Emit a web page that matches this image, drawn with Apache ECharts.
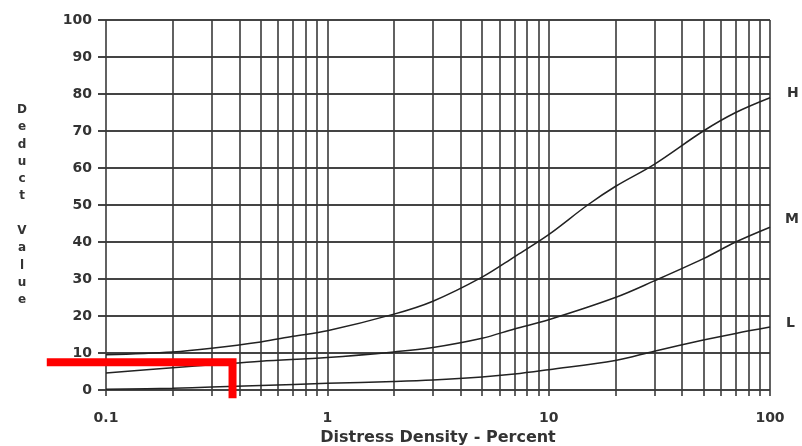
<!DOCTYPE html>
<html>
<head>
<meta charset="utf-8">
<script src="https://cdn.jsdelivr.net/npm/echarts@6/dist/echarts.min.js"></script>
<style>
html,body{margin:0;padding:0;background:#fff;}
#c{width:802px;height:446px;}
</style>
</head>
<body>
<div id="c"></div>
<script>
// Density (%) values and deduct values
const xH = [0.1, 0.2, 0.3, 0.5, 0.7, 1, 2, 3, 5, 7, 10, 15, 20, 30, 50, 70, 100];
const yH = [9.5, 10.3, 11.3, 13, 14.5, 16, 20.5, 24, 30.5, 36, 42, 50, 55, 61, 70, 75, 79];
const xM = [0.1, 0.2, 0.3, 0.5, 1, 2, 3, 5, 7, 10, 20, 30, 50, 70, 100];
const yM = [4.6, 6, 6.8, 7.8, 8.8, 10.3, 11.5, 14, 16.5, 19, 25, 29.5, 35.5, 40, 44];
const xL = [0.1, 0.2, 0.3, 0.5, 1, 2, 3, 5, 7, 10, 20, 30, 50, 70, 100];
const yL = [0.2, 0.5, 0.8, 1.2, 1.8, 2.3, 2.7, 3.5, 4.3, 5.5, 8, 10.5, 13.5, 15.3, 17];
const xGridValues = [0.1,0.2,0.3,0.4,0.5,0.6,0.7,0.8,0.9,1,2,3,4,5,6,7,8,9,10,20,30,40,50,60,70,80,90,100];
const redX = [0.054, 0.373, 0.373];
const redY = [7.5, 7.5, -2.2];
const yTicks = [0, 10, 20, 30, 40, 50, 60, 70, 80, 90, 100];
const xMin = 0.1, xMax = 100;
const gridTickBottom = -1.6;

const pair = (xs, ys) => xs.map((x, i) => [x, ys[i]]);
const chart = echarts.init(document.getElementById('c'));
const txt = '#333';
const font = 'DejaVu Sans';

const curve = (name, xs, ys, off) => ({
  type: 'line', name, data: pair(xs, ys), smooth: 0.35, symbol: 'none',
  lineStyle: {color: '#222', width: 1.5}, z: 5,
  endLabel: {show: true, formatter: name, offset: off, color: txt,
    fontFamily: font, fontWeight: 'bold', fontSize: 14, distance: 5}
});

chart.setOption({
  animation: false,
  grid: {left: 106, right: 32, top: 20, bottom: 56, containLabel: false, outerBoundsMode: 'none'},
  xAxis: {
    type: 'log', logBase: 10, min: xMin, max: xMax,
    axisLine: {show: false}, axisTick: {show: false}, splitLine: {show: false},
    axisLabel: {margin: 21, color: txt, fontFamily: font, fontWeight: 'bold', fontSize: 14},
    name: 'Distress Density - Percent', nameLocation: 'middle', nameGap: 47,
    nameTextStyle: {color: txt, fontFamily: font, fontWeight: 'bold', fontSize: 16, verticalAlign: 'middle'}
  },
  yAxis: {
    type: 'value', min: yTicks[0], max: yTicks[yTicks.length - 1], interval: 10,
    axisLine: {show: false},
    axisTick: {show: true, length: 8, lineStyle: {color: '#444', width: 2}},
    splitLine: {show: true, lineStyle: {color: '#444', width: 2}},
    axisLabel: {margin: 14, color: txt, fontFamily: font, fontWeight: 'bold', fontSize: 14},
    name: 'Deduct Value'.split('').map(c => c === ' ' ? '' : c).join('\n'),
    nameLocation: 'middle', nameRotate: 0, nameGap: 84,
    nameTextStyle: {color: txt, fontFamily: font, fontWeight: 'bold', fontSize: 12,
      lineHeight: 17.3, align: 'center', verticalAlign: 'middle'}
  },
  series: [
    {
      type: 'lines', coordinateSystem: 'cartesian2d', clip: false, silent: true, z: 2,
      lineStyle: {color: '#3a3a3a', width: 1.6, opacity: 1},
      data: xGridValues.map(v => ({coords: [[v, gridTickBottom], [v, yTicks[yTicks.length - 1]]]}))
    },
    curve('H', xH, yH, [12, -4]),
    curve('M', xM, yM, [10, -8]),
    curve('L', xL, yL, [11, -4]),
    {
      type: 'lines', coordinateSystem: 'cartesian2d', polyline: true, clip: false, silent: true, z: 10,
      lineStyle: {color: '#ff0000', width: 8, opacity: 1, join: 'miter', cap: 'butt'},
      data: [{coords: pair(redX, redY)}]
    }
  ]
});
</script>
</body>
</html>
